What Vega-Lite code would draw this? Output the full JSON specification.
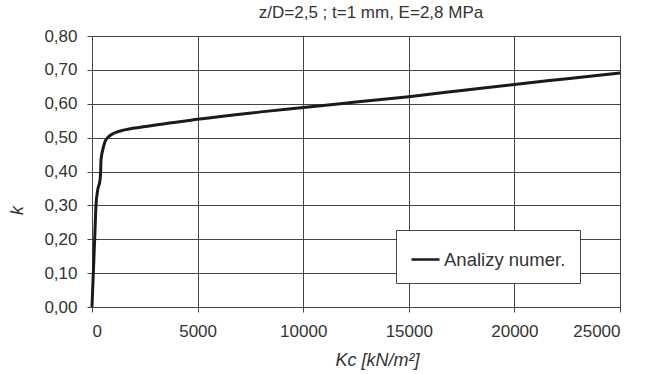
{
  "$schema": "https://vega.github.io/schema/vega-lite/v6.json",
  "width": 528,
  "height": 271,
  "autosize": {"type": "none"},
  "padding": {"left": 92, "top": 36, "right": 28, "bottom": 67},
  "background": "white",
  "title": {
    "text": "z/D=2,5 ; t=1 mm, E=2,8 MPa",
    "font": "Liberation Sans",
    "fontSize": 17,
    "fontWeight": "normal",
    "color": "#333",
    "dx": 15,
    "offset": 5
  },
  "config": {
    "view": {"stroke": "#444", "strokeWidth": 1},
    "font": "Liberation Sans"
  },
  "data": {
    "values": [
      {"Kc": 0, "k": 0, "s": "Analizy numer."},
      {"Kc": 30, "k": 0.05, "s": "Analizy numer."},
      {"Kc": 63, "k": 0.10, "s": "Analizy numer."},
      {"Kc": 126, "k": 0.20, "s": "Analizy numer."},
      {"Kc": 189, "k": 0.30, "s": "Analizy numer."},
      {"Kc": 268, "k": 0.345, "s": "Analizy numer."},
      {"Kc": 379, "k": 0.375, "s": "Analizy numer."},
      {"Kc": 410, "k": 0.40, "s": "Analizy numer."},
      {"Kc": 426, "k": 0.434, "s": "Analizy numer."},
      {"Kc": 505, "k": 0.463, "s": "Analizy numer."},
      {"Kc": 615, "k": 0.488, "s": "Analizy numer."},
      {"Kc": 773, "k": 0.502, "s": "Analizy numer."},
      {"Kc": 1010, "k": 0.512, "s": "Analizy numer."},
      {"Kc": 1483, "k": 0.522, "s": "Analizy numer."},
      {"Kc": 2430, "k": 0.532, "s": "Analizy numer."},
      {"Kc": 5000, "k": 0.554, "s": "Analizy numer."},
      {"Kc": 8000, "k": 0.576, "s": "Analizy numer."},
      {"Kc": 10000, "k": 0.589, "s": "Analizy numer."},
      {"Kc": 12500, "k": 0.605, "s": "Analizy numer."},
      {"Kc": 15000, "k": 0.621, "s": "Analizy numer."},
      {"Kc": 17500, "k": 0.639, "s": "Analizy numer."},
      {"Kc": 20000, "k": 0.657, "s": "Analizy numer."},
      {"Kc": 22500, "k": 0.674, "s": "Analizy numer."},
      {"Kc": 25000, "k": 0.691, "s": "Analizy numer."}
    ]
  },
  "mark": {"type": "line", "strokeWidth": 3, "interpolate": "monotone"},
  "encoding": {
    "x": {
      "field": "Kc",
      "type": "quantitative",
      "scale": {"domain": [0, 25000], "nice": false},
      "axis": {
        "values": [0, 5000, 10000, 15000, 20000, 25000],
        "format": "d",
        "title": "Kc [kN/m²]",
        "titleFontStyle": "italic",
        "titleFontWeight": "normal",
        "titleFontSize": 18,
        "titleColor": "#333",
        "titleX": 285,
        "titleY": 58,
        "titleBaseline": "alphabetic",
        "labelFontSize": 17,
        "labelColor": "#333",
        "labelPadding": 11,
        "tickSize": 5,
        "tickColor": "#444",
        "domainColor": "#444",
        "gridColor": "#444",
        "gridOpacity": 1,
        "gridWidth": 1
      }
    },
    "y": {
      "field": "k",
      "type": "quantitative",
      "scale": {"domain": [0, 0.8], "nice": false},
      "axis": {
        "values": [0, 0.1, 0.2, 0.3, 0.4, 0.5, 0.6, 0.7, 0.8],
        "labelExpr": "replace(format(datum.value, '.2f'), '.', ',')",
        "title": "k",
        "titleFontStyle": "italic",
        "titleFontWeight": "normal",
        "titleFontSize": 18,
        "titleColor": "#333",
        "titleAngle": -90,
        "titleX": -70,
        "titleY": 174,
        "titleBaseline": "alphabetic",
        "labelFontSize": 17,
        "labelColor": "#333",
        "labelPadding": 10,
        "tickSize": 5,
        "tickColor": "#444",
        "domainColor": "#444",
        "gridColor": "#444",
        "gridOpacity": 1,
        "gridWidth": 1
      }
    },
    "color": {
      "field": "s",
      "type": "nominal",
      "scale": {"range": ["#1a1a1a"]},
      "legend": {
        "title": null,
        "orient": "none",
        "legendX": 304,
        "legendY": 194,
        "direction": "vertical",
        "symbolType": "stroke",
        "symbolSize": 784,
        "symbolStrokeWidth": 2.5,
        "labelFontSize": 18.5,
        "labelColor": "#333",
        "labelOffset": 3,
        "strokeColor": "#444",
        "fillColor": "white",
        "padding": 14,
        "labelLimit": 300
      }
    }
  }
}
